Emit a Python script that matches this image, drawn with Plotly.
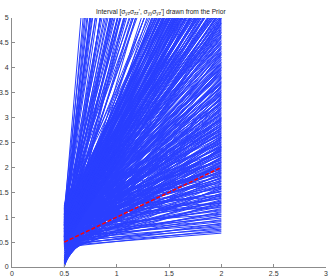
import plotly.graph_objects as go

# x positions where every sampled line starts and ends
x_start = 0.5
x_end = 2.0

start_y = [
    # low, nearly flat lines at the bottom
    0.43, 0.47, 0.40, 0.52, 0.45, 0.56, 0.49, 0.61, 0.42, 0.58, 0.66, 0.51, 0.70, 0.47, 0.63, 0.55, 0.74, 0.60,
    # steep lines starting near zero
    0.00, 0.01, 0.02, 0.03, 0.04, 0.05, 0.06, 0.08, 0.09, 0.11, 0.12, 0.14, 0.16, 0.18, 0.19, 0.21, 0.23, 0.25,
    0.27, 0.29, 0.31, 0.33, 0.35, 0.37, 0.39,
    0.02, 0.06, 0.10, 0.13, 0.17, 0.20, 0.24, 0.28, 0.30, 0.33, 0.36, 0.26, 0.15, 0.08, 0.22,
    # main bundle
    0.62, 0.88, 0.45, 1.05, 0.71, 0.53, 0.97, 0.80, 0.66, 1.12, 0.49, 0.92, 0.75, 0.58, 1.01, 0.84, 0.69, 0.41,
    1.18, 0.77, 0.95, 0.56, 0.86, 0.64, 1.08, 0.73, 0.51, 0.90, 0.99, 0.68, 1.15, 0.82, 0.60, 1.03, 0.79,
    0.74, 0.39, 0.93, 0.57, 1.10, 0.81, 0.47, 0.68, 1.02, 0.85, 0.63, 0.35, 0.96, 0.72, 0.54, 1.14, 0.87, 0.44,
    0.78, 1.06, 0.59, 0.91, 0.67, 1.20, 0.50, 0.83, 0.98, 0.42, 0.76, 1.11, 0.61, 0.89, 0.70, 1.00, 0.55,
    0.86, 0.52, 1.07, 0.69, 0.38, 0.94, 0.77, 1.16, 0.60, 0.83, 0.46, 1.01, 0.73, 0.57, 1.22, 0.90, 0.65, 0.43,
    0.98, 0.80, 1.12, 0.54, 0.71, 0.87, 0.36, 1.04, 0.62, 0.92, 0.49, 0.79, 1.19, 0.67, 0.96, 0.58, 0.84, 1.09,
    0.45, 0.75, 1.00, 0.63,
    0.70, 0.95, 0.48, 1.13, 0.81, 0.59, 1.03, 0.66, 0.89, 0.40, 0.76, 1.21, 0.55, 0.97, 0.84, 0.63, 1.08, 0.73,
    0.50, 0.92, 1.17, 0.68, 0.86, 0.44, 1.00, 0.78, 0.61, 1.14, 0.88, 0.53, 0.94, 0.72, 1.06, 0.47, 0.82, 1.24,
    0.65, 0.99, 0.57, 0.91,
    0.88, 0.61, 1.05, 0.74, 0.46, 0.96, 0.83, 1.18, 0.57, 0.79, 0.99, 0.67, 1.10, 0.52, 0.90, 0.72, 1.23, 0.63,
    0.85, 0.41, 1.02, 0.77, 0.94, 0.69, 1.15, 0.55, 0.87, 1.07, 0.60, 0.81,
    0.92, 0.64, 1.11, 0.78, 1.20, 0.53, 0.86, 1.04, 0.70, 0.97, 1.16, 0.59, 1.05, 0.82, 0.74, 1.01,
    # second batch of the main bundle
    0.58, 0.83, 0.49, 0.71, 1.06, 0.64, 0.92, 0.52, 0.78, 1.13, 0.67, 0.88, 0.44, 1.00, 0.73, 0.56, 0.95, 0.81,
    1.19, 0.62,
    0.91, 0.60, 1.17, 0.76, 0.48, 1.03, 0.69, 0.85, 0.55, 0.97, 1.22, 0.65, 0.80, 0.43, 1.09, 0.74, 0.90, 0.58,
    1.14, 0.68, 0.84, 1.01, 0.37, 0.52, 0.63,
    0.67, 1.10, 0.82, 0.50, 0.95, 0.72, 1.18, 0.59, 0.88, 0.41, 1.04, 0.77, 0.64, 0.99, 0.53, 1.13, 0.85, 0.70,
    0.46, 0.93, 1.07, 0.61, 0.79, 1.20, 0.56, 0.90, 0.74, 1.02, 0.48, 0.86, 0.66, 1.15, 0.81, 0.54, 0.97, 0.69,
    1.11, 0.60, 0.89, 0.76,
    0.93, 0.56, 0.78, 1.09, 0.64, 0.87, 0.47, 1.01, 0.73, 1.19, 0.59, 0.90, 0.68, 1.12, 0.80, 0.51, 0.96, 0.75,
    1.05, 0.62, 0.85, 0.42, 1.15, 0.70, 0.98, 0.58, 0.89, 1.22, 0.66, 0.83, 0.54, 1.03, 0.77, 0.93, 0.61, 1.10,
    0.72, 0.86, 0.49, 0.95,
    0.71, 1.08, 0.85, 0.62, 0.94, 1.13, 0.77, 0.89,
    # third batch (dense upper-right fan)
    0.80, 0.53, 1.08, 0.66, 0.94, 0.45, 1.16, 0.72, 0.87, 0.59, 1.02, 0.77, 0.50, 0.98, 0.63, 1.12, 0.83, 0.69,
    1.21, 0.57,
    0.95, 0.71, 1.14, 0.58, 0.84, 1.03, 0.65, 0.91, 0.47, 1.18, 0.76, 0.60, 0.99, 0.82, 1.10, 0.55, 0.87, 0.69,
    1.23, 0.73, 0.52, 0.96, 0.79, 1.06, 0.62, 0.89, 0.44, 1.13, 0.75, 0.97, 0.58, 0.84, 1.20, 0.67, 0.92, 0.51,
    1.05, 0.78, 0.63, 0.86,
    0.61, 1.04, 0.83, 0.49, 0.97, 0.72, 1.16, 0.58, 0.88, 0.68, 1.09, 0.80, 0.53, 0.94, 1.21, 0.65, 0.86, 0.74,
    1.01, 0.56, 0.91, 0.69, 1.13, 0.78, 0.46, 0.99, 0.84, 0.62, 1.07, 0.73, 0.93, 0.55, 1.18, 0.81, 0.66, 1.02,
    0.89, 0.59, 0.76, 0.97,
    0.85, 0.64, 1.11, 0.77, 0.95, 0.52, 1.06, 0.71, 0.90, 1.19,
]

end_y = [
    0.68, 0.71, 0.74, 0.76, 0.79, 0.81, 0.84, 0.86, 0.88, 0.91, 0.93, 0.95, 0.98, 1.02, 1.05, 1.09, 1.13, 1.17,
    14.0, 9.5, 22.0, 7.8, 11.0, 6.4, 17.0, 5.6, 8.9, 4.9, 13.0, 4.3, 6.8, 3.7, 10.0, 3.2, 5.2, 2.8,
    7.5, 2.4, 4.1, 2.1, 3.3, 1.8, 2.6,
    7.0, 5.0, 4.0, 3.5, 3.0, 2.6, 2.2, 1.9, 1.6, 1.45, 1.3, 2.4, 3.8, 6.0, 3.4,
    1.21, 1.24, 1.27, 1.29, 1.32, 1.35, 1.37, 1.40, 1.43, 1.45, 1.48, 1.51, 1.53, 1.56, 1.58, 1.61, 1.63, 1.66,
    1.68, 1.71, 1.73, 1.75, 1.78, 1.80, 1.82, 1.85, 1.87, 1.89, 1.91, 1.93, 1.95, 1.97, 1.98, 1.99, 2.00,
    2.03, 2.06, 2.09, 2.12, 2.15, 2.18, 2.21, 2.25, 2.28, 2.31, 2.34, 2.37, 2.40, 2.43, 2.46, 2.49, 2.52, 2.55,
    2.58, 2.61, 2.64, 2.67, 2.70, 2.73, 2.76, 2.79, 2.82, 2.85, 2.88, 2.91, 2.93, 2.95, 2.97, 2.98, 2.99,
    3.03, 3.08, 3.12, 3.17, 3.21, 3.26, 3.30, 3.35, 3.39, 3.44, 3.48, 3.53, 3.57, 3.62, 3.66, 3.71, 3.75, 3.80,
    3.84, 3.89, 3.93, 3.98, 4.03, 4.08, 4.14, 4.19, 4.25, 4.30, 4.36, 4.41, 4.47, 4.52, 4.58, 4.63, 4.69, 4.74,
    4.80, 4.86, 4.91, 4.97,
    5.04, 5.11, 5.18, 5.25, 5.31, 5.39, 5.46, 5.53, 5.60, 5.68, 5.75, 5.82, 5.90, 5.97, 6.05, 6.12, 6.20, 6.28,
    6.35, 6.43, 6.51, 6.59, 6.67, 6.75, 6.83, 6.91, 7.00, 7.08, 7.16, 7.25, 7.33, 7.42, 7.50, 7.59, 7.68, 7.76,
    7.85, 7.93, 7.97, 8.00,
    8.2, 8.5, 8.8, 9.1, 9.4, 9.7, 10.0, 10.3, 10.7, 11.0, 11.3, 11.6, 11.9, 12.2, 12.5, 12.8, 13.1, 13.4,
    13.7, 14.0, 14.3, 14.6, 14.9, 8.6, 9.9, 10.9, 11.8, 12.7, 13.6, 14.4,
    15.6, 16.8, 17.9, 19.2, 20.5, 22.1, 23.8, 25.4, 27.3, 29.0, 31.2, 33.5, 38.4, 35.8, 18.5, 24.6,
    # second batch
    1.02, 1.06, 1.11, 1.15, 1.19, 1.23, 1.28, 1.33, 1.38, 1.42, 1.47, 1.52, 1.57, 1.62, 1.67, 1.72, 1.77, 1.83,
    1.88, 1.94,
    2.02, 2.07, 2.11, 2.16, 2.20, 2.24, 2.29, 2.33, 2.38, 2.42, 2.47, 2.51, 2.56, 2.60, 2.65, 2.69, 2.74, 2.78,
    2.83, 2.87, 2.92, 2.96, 2.50, 2.35, 2.80,
    3.01, 3.06, 3.10, 3.15, 3.19, 3.24, 3.28, 3.33, 3.37, 3.42, 3.46, 3.51, 3.55, 3.60, 3.64, 3.69, 3.73, 3.78,
    3.82, 3.87, 3.91, 3.96, 4.01, 4.06, 4.11, 4.17, 4.22, 4.28, 4.33, 4.39, 4.44, 4.50, 4.55, 4.61, 4.66, 4.72,
    4.77, 4.83, 4.89, 4.95,
    5.02, 5.08, 5.15, 5.21, 5.28, 5.35, 5.42, 5.49, 5.57, 5.64, 5.71, 5.79, 5.86, 5.94, 6.01, 6.09, 6.16, 6.24,
    6.32, 6.40, 6.47, 6.55, 6.63, 6.71, 6.79, 6.87, 6.95, 7.04, 7.12, 7.21, 7.29, 7.38, 7.46, 7.55, 7.64, 7.72,
    7.81, 7.89, 7.95, 6.00,
    15.2, 16.1, 17.3, 19.8, 21.4, 23.1, 26.2, 28.4,
    # third batch
    2.04, 2.10, 2.14, 2.19, 2.23, 2.27, 2.32, 2.36, 2.41, 2.45, 2.54, 2.58, 2.63, 2.68, 2.72, 2.77, 2.84, 2.89,
    2.94, 2.99,
    3.05, 3.09, 3.14, 3.18, 3.23, 3.27, 3.32, 3.36, 3.41, 3.45, 3.50, 3.54, 3.59, 3.63, 3.68, 3.72, 3.77, 3.81,
    3.86, 3.90, 3.95, 4.00, 4.05, 4.10, 4.16, 4.21, 4.27, 4.32, 4.38, 4.43, 4.49, 4.54, 4.60, 4.65, 4.71, 4.76,
    4.82, 4.88, 4.93, 4.99,
    5.03, 5.07, 5.12, 5.16, 5.20, 5.24, 5.29, 5.33, 5.38, 5.43, 5.47, 5.52, 5.56, 5.61, 5.66, 5.70, 5.75, 5.80,
    5.85, 5.89, 5.94, 5.99, 6.04, 6.08, 6.13, 6.18, 6.23, 6.29, 6.34, 6.39, 6.44, 6.49, 6.54, 6.60, 6.65, 6.71,
    6.77, 6.83, 6.89, 6.95,
    7.05, 7.18, 7.31, 7.44, 7.57, 7.70, 7.83, 7.96, 8.12, 8.30,
]

# reference line y = x
ref_x = [0.5, 2.0]
ref_y = [0.5, 2.0]

x_ticks = [0, 0.5, 1, 1.5, 2, 2.5, 3]
x_tick_text = ["0", "0.5", "1", "1.5", "2", "2.5", "3"]
y_ticks = [0, 0.5, 1, 1.5, 2, 2.5, 3, 3.5, 4, 4.5, 5]
y_tick_text = ["0", "0.5", "1", "1.5", "2", "2.5", "3", "3.5", "4", "4.5", "5"]

title_text = ("Interval [σ<sub>yz</sub>σ<sub>zz</sub>', σ<sub>yy</sub>σ<sub>yz</sub>'] "
              "drawn from the Prior")

lx, ly = [], []
for a, b in zip(start_y, end_y):
    lx += [x_start, x_end, None]
    ly += [a, b, None]

fig = go.Figure()
fig.add_trace(go.Scatter(x=lx, y=ly, mode="lines",
                         line=dict(color="#2a3fff", width=1),
                         hoverinfo="skip", showlegend=False))
fig.add_trace(go.Scatter(x=ref_x, y=ref_y, mode="lines",
                         line=dict(color="#ff0000", width=1.5, dash="4px,2px"),
                         hoverinfo="skip", showlegend=False))

axis_common = dict(showgrid=False, zeroline=False, showline=True, automargin=False,
                   linecolor="#8c8c8c", linewidth=1, ticks="inside",
                   ticklen=3, tickcolor="#8c8c8c", mirror=False,
                   tickfont=dict(family="Liberation Sans", size=7, color="#333333"))

fig.update_layout(
    width=332, height=278,
    margin=dict(l=12, r=6, t=18, b=11),
    paper_bgcolor="white", plot_bgcolor="white",
    xaxis=dict(range=[0, 3], tickvals=x_ticks, ticktext=x_tick_text, ticklabelstandoff=0, **axis_common),
    yaxis=dict(range=[0, 5], tickvals=y_ticks, ticktext=y_tick_text, ticklabelstandoff=1, **axis_common),
    annotations=[dict(text=title_text, xref="paper", yref="paper", x=0.475, y=1.0,
                      yshift=12, showarrow=False,
                      font=dict(family="Liberation Sans", size=6.6, color="#222222"))],
)

fig.write_html("out.html", config={"displayModeBar": False},
               post_script="document.body.style.margin='0';")
